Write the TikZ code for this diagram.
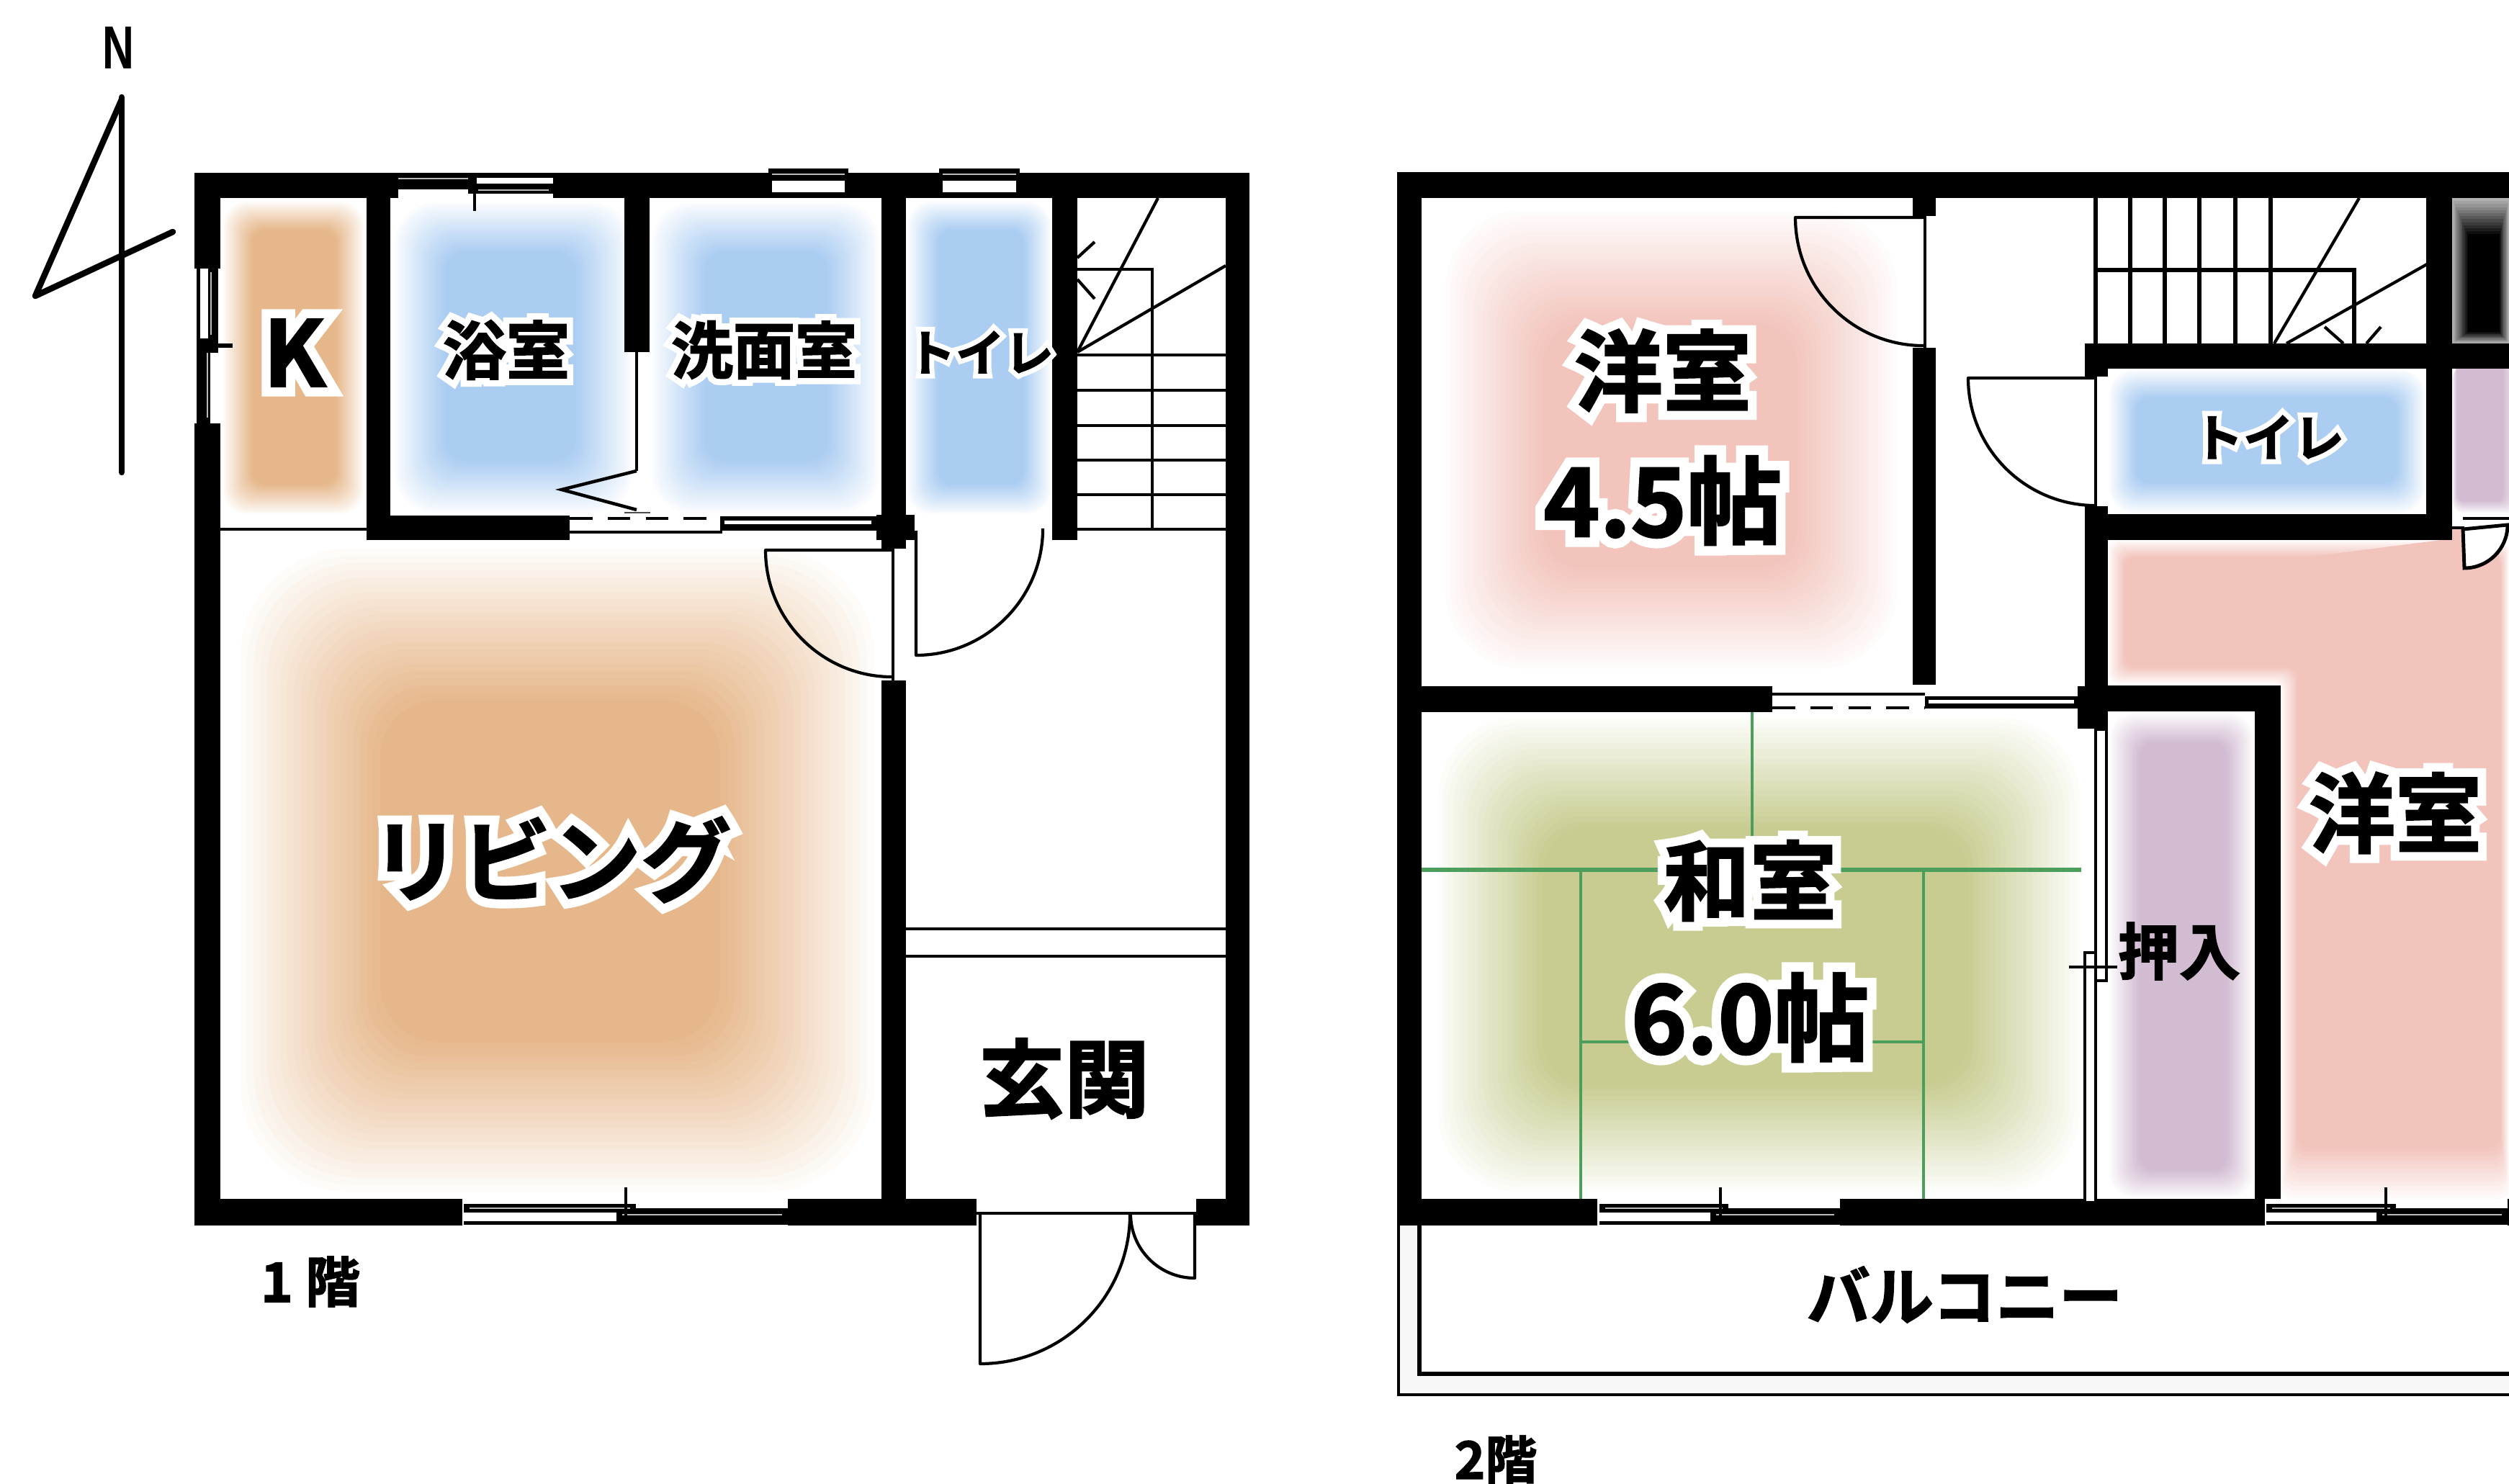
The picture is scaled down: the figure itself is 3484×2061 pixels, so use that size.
\documentclass[tikz,border=0pt]{standalone}
\usepackage{fontspec}
\usepackage{xcolor}
\newfontfamily\jp{Noto Sans CJK JP}[UprightFont=* Bold,FakeBold=2]
\newfontfamily\jph{Noto Sans CJK JP}[UprightFont=* Bold,FakeBold=22]
\newfontfamily\nfont{Liberation Sans}
\newcommand\fs[1]{\jp\fontsize{\fpeval{#1*0.2845}}{\fpeval{#1*0.3}}\selectfont}
\newcommand\hl[1]{\leavevmode\rlap{\color{white}\jph #1}#1}
\definecolor{warm}{HTML}{E6B78A}
\definecolor{blu}{HTML}{ABCDF2}
\definecolor{pnk}{HTML}{F2C4BC}
\definecolor{grn}{HTML}{C8CC90}
\definecolor{ppl}{HTML}{D2BCD2}
\definecolor{tat}{HTML}{4C9E5C}
\definecolor{glin}{HTML}{BBBBBB}
% soft room: outer box, inner box, colour
\newcommand\softroom[9]{%
  \foreach \i in {1,...,22}{%
    \pgfmathsetmacro\tt{\i/22}%
    \pgfmathsetmacro\pc{100*\tt^0.95}%
    \pgfmathsetmacro\xa{#1+(#5-#1)*\tt}%
    \pgfmathsetmacro\ya{#2+(#6-#2)*\tt}%
    \pgfmathsetmacro\xb{#3+(#7-#3)*\tt}%
    \pgfmathsetmacro\yb{#4+(#8-#4)*\tt}%
    \pgfmathsetmacro\rr{max(2,min(\xb-\xa,\yb-\ya)*0.17*0.2845)}%
    \fill[#9!\pc!white,rounded corners=\rr pt] (\xa,\ya) rectangle (\xb,\yb);
  }}
% sliding window in a south wall
\newcommand\slidew[5]{%
  \fill[black] (#1,1672) rectangle (#2,1684);
  \fill[black] (#2,1678) rectangle (#4,1684);
  \fill[black] (#3,1684) rectangle (#4,1701);
  \fill[black] (#1,1696) rectangle (#3,1701);
  \fill[glin] (#1+8,1677) rectangle (#2-8,1679);
  \fill[glin] (#3+8,1685.5) rectangle (#4-8,1687.5);
  \draw[thinl] (#5,1649) -- (#5,1690);
}
% small window in the north wall
\newcommand\smallw[2]{%
  \fill[black] (#1,234) rectangle (#2,245);
  \fill[glin] (#1+5,241) rectangle (#2-5,243);
  \fill[white] (#1+5,251) rectangle (#2-5,267);
}
\tikzset{
  lab/.style={inner sep=0pt,outer sep=0pt,text=black,anchor=center},
  thinl/.style={draw=black,line width=1.1pt},
  stair/.style={draw=black,line width=1.2pt},
  doorl/.style={draw=black,line width=1.2pt,line join=round},
  wall/.style={fill=black}
}
\begin{document}
\begin{tikzpicture}[x=0.01cm,y=-0.01cm]
\useasboundingbox (0,0) rectangle (3484,2061);
\clip (0,0) rectangle (3484,2061);
\fill[white] (0,0) rectangle (3484,2061);

% ---- room tints, ground floor
\softroom{308}{278}{507}{716}{350}{319}{467}{673}{warm}
\softroom{545}{278}{882}{716}{617}{348}{800}{641}{blu}
\softroom{902}{278}{1224}{716}{978}{348}{1150}{641}{blu}
\softroom{1258}{278}{1461}{716}{1302}{319}{1422}{673}{blu}
\softroom{325}{752}{1224}{1665}{528}{972}{1000}{1447}{warm}

% ---- room tints, upper floor
\softroom{2001}{285}{2640}{935}{2142}{449}{2496}{790}{pnk}
\softroom{1990}{989}{2895}{1662}{2142}{1149}{2733}{1507}{grn}
\softroom{2927}{512}{3369}{714}{2966}{552}{3329}{671}{blu}
\softroom{2927}{989}{3131}{1665}{2971}{1030}{3092}{1626}{ppl}
\softroom{3405}{512}{3500}{714}{3412}{500}{3476}{696}{ppl}
\fill[black!30] (3405,275) rectangle (3484,477);
\foreach \i in {1,...,12}{
  \pgfmathsetmacro\pc{30+70*\i/12}
  \pgfmathsetmacro\xa{3405+\i*1.8}
  \pgfmathsetmacro\xb{3484-\i*1.1}
  \pgfmathsetmacro\ya{275+\i*4.2}
  \pgfmathsetmacro\yb{477-\i*1.3}
  \fill[black!\pc] (\xa,\ya) rectangle (\xb,\yb);
}
\foreach \d in {0,2,...,24}{
  \pgfmathsetmacro\pc{min(100,\d*4+8)}
  \fill[pnk!\pc!white,rounded corners=4pt]
    (2927+\d,750+\d) -- (3484-\d/2,750+\d) -- (3484-\d/2,1665-3*\d) -- (3167+\d,1665-3*\d)
    -- (3167+\d,950-\d) -- (2927+\d,950-\d) -- cycle;
}
\fill[pnk] (3405,735) rectangle (3470,780);
\fill[pnk] (3170,778) -- (3405,748) -- (3405,778) -- cycle;

% ---- walls, ground floor
\fill[wall] (270,240) rectangle (1735,275);
\fill[wall] (270,240) rectangle (306,373);
\fill[wall] (270,588) rectangle (306,1702);
\fill[wall] (1702,240) rectangle (1735,1702);
\fill[wall] (509,275) rectangle (542,750);
\fill[wall] (509,716) rectangle (791,750);
\fill[wall] (867,275) rectangle (902,489);
\fill[wall] (1224,275) rectangle (1258,762);
\fill[wall] (1217,715) rectangle (1270,750);
\fill[wall] (1224,945) rectangle (1258,1702);
\fill[wall] (1461,275) rectangle (1496,750);
\fill[wall] (270,1665) rectangle (642,1702);
\fill[wall] (1094,1665) rectangle (1356,1702);
\fill[wall] (1661,1665) rectangle (1735,1702);
\draw[thinl] (1356,1685) -- (1661,1685);

% ---- north windows, ground floor
\fill[white] (553,241) rectangle (768,275);
\fill[black] (553,241) rectangle (662,263);
\fill[black] (650,241) rectangle (768,247);
\fill[black] (650,255) rectangle (768,269);
\fill[black] (650,247) rectangle (662,269);
\fill[glin] (553,247) rectangle (650,249);
\fill[glin] (664,263) rectangle (762,265);
\draw[thinl] (659,248) -- (659,293);
\smallw{1067}{1178}
\smallw{1304}{1416}

% ---- west window, ground floor
\fill[black] (273,373) rectangle (278,588);
\fill[black] (289,373) rectangle (303,490);
\fill[glin] (292,378) rectangle (294,465);
\fill[black] (273,470) rectangle (292,588);
\fill[glin] (287,490) rectangle (289,580);
\draw[line width=1.6pt] (290,480) -- (323,480);

% ---- south window, ground floor
\slidew{644}{883}{856}{1094}{869}

% ---- bath partition and sliding door
\draw[thinl] (884,489) -- (884,654);
\draw[line width=1.3pt,line join=miter] (884,654) -- (780,680) -- (884,708);
\draw[line width=.6pt,draw=black!70] (867,712) -- (903,712);
\draw[line width=1.4pt,dash pattern=on 9pt off 6pt] (791,720) -- (982,720);
\draw[thinl] (791,739) -- (1003,739);
\fill[black] (1000,717) rectangle (1217,737);
\fill[white] (1006,723) rectangle (1210,728);
\draw[thinl] (306,735) -- (509,735);
\draw[thinl] (1496,735) -- (1702,735);

% ---- stairs, ground floor
\foreach \sy in {493,542,591,639,687}{\draw[stair] (1496,\sy) -- (1702,\sy);}
\draw[stair] (1496,374) -- (1600,374) -- (1600,735);
\coordinate (sf1) at (1496,489);
\coordinate (sf2) at (1608,275);
\coordinate (sf3) at (1702,369);
\draw[stair] (sf1) -- (sf2);
\draw[stair] (sf1) -- (sf3);
\draw[stair] (1496,358) -- (1520,336);
\draw[stair] (1496,388) -- (1520,415);

% ---- doors, ground floor
\draw[doorl] (1240,762) -- (1240,945);
\draw[doorl] (1240,764) -- (1063,764) arc[start angle=180,end angle=270,radius=176*0.2845pt];
\draw[doorl] (1272,737) -- (1272,910) arc[start angle=270,end angle=360,radius=176*0.2845pt];
\draw[doorl] (1361,1686) -- (1361,1894) arc[start angle=270,end angle=360,radius=208*0.2845pt];
\draw[doorl] (1659,1686) -- (1659,1775) arc[start angle=270,end angle=180,radius=89*0.2845pt];
\draw[thinl] (1258,1290) -- (1702,1290);
\draw[thinl] (1258,1328) -- (1702,1328);

% ---- north arrow
\draw[line width=2.4pt,line join=round,line cap=round] (169,138) -- (49,411) -- (240,322);
\draw[line width=2.4pt,line cap=round] (169,135) -- (169,656);

% ---- walls, upper floor
\fill[wall] (1940,239) rectangle (3484,275);
\fill[wall] (1940,239) rectangle (1974,1702);
\fill[wall] (2656,275) rectangle (2688,300);
\fill[wall] (2656,483) rectangle (2688,951);
\fill[wall] (1974,953) rectangle (2461,989);
\fill[wall] (2885,953) rectangle (2925,1012);
\fill[wall] (2925,952) rectangle (3167,988);
\fill[wall] (3131,952) rectangle (3167,1665);
\fill[wall] (2895,477) rectangle (3484,512);
\fill[wall] (2895,477) rectangle (2927,523);
\fill[wall] (2895,703) rectangle (2927,1012);
\fill[wall] (2895,714) rectangle (3405,750);
\fill[wall] (3369,275) rectangle (3405,750);
\fill[wall] (1940,1665) rectangle (2218,1702);
\fill[wall] (2555,1665) rectangle (3145,1702);
\fill[wall] (3482,1665) rectangle (3484,1702);

% ---- upper-floor windows and doors
\slidew{2221}{2400}{2375}{2555}{2389}
\slidew{3147}{3327}{3300}{3482}{3313}
\draw[line width=1.4pt,dash pattern=on 9pt off 6pt] (2461,983) -- (2673,983);
\draw[thinl] (2461,964) -- (2673,964);
\fill[black] (2673,967) rectangle (2885,984);
\fill[white] (2678,972) rectangle (2880,977);
\draw[doorl] (2673,300) -- (2673,483);
\draw[doorl] (2673,302) -- (2493,302) arc[start angle=180,end angle=270,radius=178*0.2845pt];
\draw[doorl] (2910,523) -- (2910,703);
\draw[doorl] (2910,525) -- (2733,525) arc[start angle=180,end angle=270,radius=177*0.2845pt];
\draw[thinl,fill=white] (2910,1013) rectangle (2925,1362);
\draw[thinl,fill=white] (2895,1323) rectangle (2910,1670);
\draw[thinl] (2873,1343) -- (2940,1343);
\draw[thinl] (3405,733) -- (3422,733);
\draw[line width=1.4pt] (3420,720) -- (3484,720);
\draw[line width=1.4pt,fill=white] (3420,735) -- (3422,789) arc[start angle=270,end angle=360,radius=60*0.2845pt] -- cycle;

% ---- stairs, upper floor
\foreach \sx in {2958,3006,3054,3104,3153}{\draw[stair,line width=1.5pt] (\sx,275) -- (\sx,477);}
\draw[stair,line width=1.5pt] (2910,275) -- (2910,477);
\draw[stair,line width=1.5pt] (2910,375) -- (3269,375) -- (3269,477);
\coordinate (su1) at (3158,477);
\coordinate (su2) at (3276,275);
\coordinate (su3) at (3175,477);
\coordinate (su4) at (3370,367);
\draw[stair] (su1) -- (su2);
\draw[stair] (su3) -- (su4);
\draw[stair] (3228,454) -- (3254,477);
\draw[stair] (3306,454) -- (3286,477);

% ---- tatami lines
\draw[tat,line width=1.8pt] (1974,1208) -- (2890,1208);
\draw[tat,line width=1.4pt] (2433,989) -- (2433,1208);
\draw[tat,line width=1.4pt] (2195,1208) -- (2195,1665);
\draw[tat,line width=1.4pt] (2671,1208) -- (2671,1665);
\draw[tat,line width=1.1pt] (2195,1447) -- (2671,1447);

% ---- balcony
\fill[black!3] (1942,1702) rectangle (1971,1937);
\fill[black!3] (1971,1908) rectangle (3484,1937);
\draw[line width=1.1pt] (1942,1702) -- (1942,1937) -- (3490,1937);
\draw[line width=1.9pt] (1971,1702) -- (1971,1908) -- (3490,1908);

% ---- labels
\node[lab,font=\nfont\bfseries\fontsize{24}{24}\selectfont,xscale=.72] (north) at (164,66) {N};
\node[lab,font=\fs{126}] (kit) at (409,490) {\hl{K}};
\node[lab,font=\fs{88}] (bath) at (703,486) {\hl{浴室}};
\node[lab,font=\fs{86}] (wash) at (1061,486) {\hl{洗面室}};
\node[lab,font=\fs{68}] (wc1) at (1361,489) {\hl{トイレ}};
\node[lab,font=\fs{125}] (living) at (765,1194) {\hl{リビング}};
\node[lab,font=\fs{118}] (genkan) at (1478,1498) {玄関};
\node[lab,font=\fs{76}] (floor1) at (431,1780) {1 階};
\node[lab,font=\fs{123}] (west1) at (2309,515) {\hl{洋室}};
\node[lab,font=\fs{132}] (west1s) at (2309,695) {\hl{4.5帖}};
\node[lab,font=\fs{70}] (wc2) at (3150,607) {\hl{トイレ}};
\node[lab,font=\fs{120}] (wa) at (2430,1223) {\hl{和室}};
\node[lab,font=\fs{132}] (was) at (2430,1413) {\hl{6.0帖}};
\node[lab,font=\fs{85}] (oshi) at (3026,1321) {押入};
\node[lab,font=\fs{120}] (west2) at (3326,1129) {\hl{洋室}};
\node[lab,font=\fs{88}] (balc) at (2728,1798) {バルコニー};
\node[lab,font=\fs{72}] (floor2) at (2077,2027) {2階};
\end{tikzpicture}
\end{document}
